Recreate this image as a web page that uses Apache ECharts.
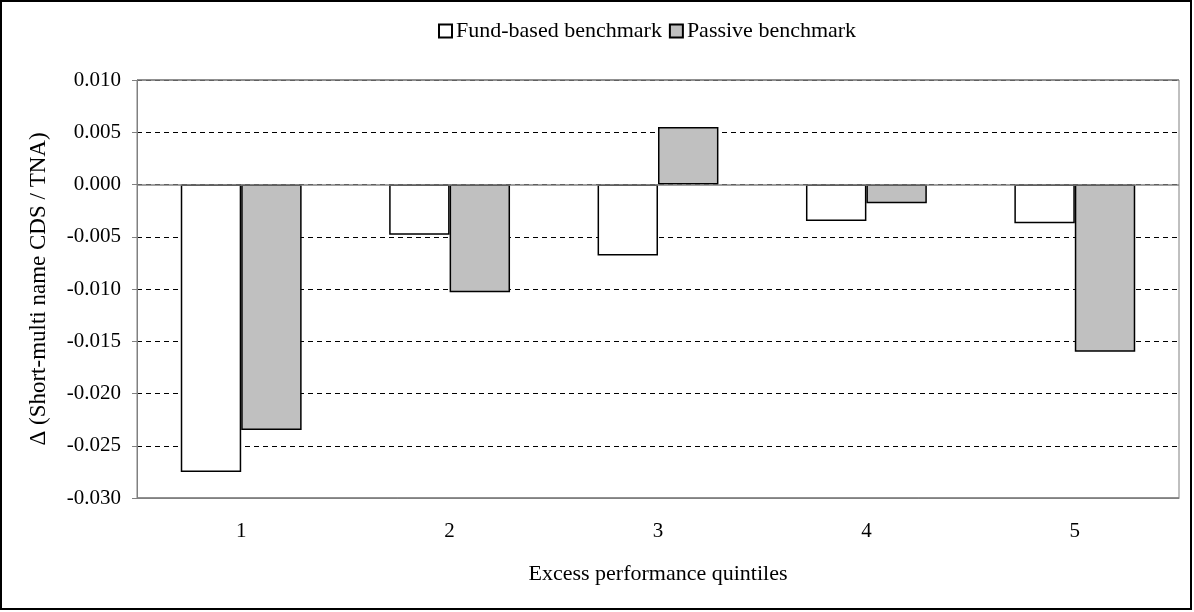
<!DOCTYPE html>
<html>
<head>
<meta charset="utf-8">
<script src="https://cdn.jsdelivr.net/npm/echarts@6/dist/echarts.min.js"></script>
<style>
html,body{margin:0;padding:0;background:#fff;}
#chart{width:1194px;height:612px;}
</style>
</head>
<body>
<div id="chart"></div>
<script>
const categories = ['1', '2', '3', '4', '5'];
const fundBased = [-0.0275, -0.0048, -0.0068, -0.0035, -0.0037];
const passive = [-0.0235, -0.0103, 0.0055, -0.0018, -0.0160];
const seriesNames = ['Fund-based benchmark', 'Passive benchmark'];
const yTicks = { min: -0.030, max: 0.010, step: 0.005 };

const FONT = '"Liberation Serif", "Times New Roman", serif';
const chart = echarts.init(document.getElementById('chart'));
chart.setOption({
  animation: false,
  backgroundColor: '#fff',
  graphic: [{
    type: 'rect', z: 100, silent: true,
    shape: { x: 1, y: 1, width: 1190, height: 608 },
    style: { fill: 'none', stroke: '#000', lineWidth: 2 }
  }],
  legend: {
    top: 15, left: 433,
    itemWidth: 13, itemHeight: 13, itemGap: 7,
    textStyle: { fontFamily: FONT, fontSize: 22, color: '#000', padding: [0, 0, 0, -1] },
    data: seriesNames.map(n => ({ name: n, icon: 'rect' }))
  },
  grid: {
    left: 137, right: 15, top: 80, bottom: 114,
    show: true, borderColor: '#808080', borderWidth: 1, backgroundColor: 'transparent'
  },
  xAxis: {
    type: 'category', data: categories,
    name: 'Excess performance quintiles', nameLocation: 'middle', nameGap: 65,
    nameTextStyle: { fontFamily: FONT, fontSize: 22, color: '#000' },
    axisLine: { onZero: false, lineStyle: { color: '#808080', width: 1 } },
    axisTick: { show: false },
    axisLabel: { fontFamily: FONT, fontSize: 21, color: '#000', margin: 23 }
  },
  yAxis: {
    type: 'value', min: yTicks.min, max: yTicks.max, interval: yTicks.step,
    name: 'Δ (Short-multi name CDS / TNA)', nameLocation: 'middle', nameGap: 87,
    nameTextStyle: { fontFamily: FONT, fontSize: 23, color: '#000' },
    axisLine: { show: true, lineStyle: { color: '#808080', width: 1 } },
    axisTick: { show: true, length: 5, lineStyle: { color: '#808080' } },
    axisLabel: { fontFamily: FONT, fontSize: 21, color: '#000', margin: 16,
      formatter: v => v.toFixed(3) },
    splitLine: { show: true, lineStyle: { color: '#000', type: [5, 4], width: 1 } }
  },
  series: [
    {
      name: seriesNames[0], type: 'bar', data: fundBased,
      barGap: '0%', barCategoryGap: '42%',
      itemStyle: { color: '#fff', borderColor: '#000', borderWidth: 1.5 },
      markLine: {
        silent: true, symbol: 'none', label: { show: false },
        lineStyle: { color: '#808080', type: 'solid', width: 1.5 },
        data: [{ yAxis: 0 }, { yAxis: yTicks.max }, { yAxis: yTicks.min }]
      },
      z: 3
    },
    {
      name: seriesNames[1], type: 'bar', data: passive,
      itemStyle: { color: '#c0c0c0', borderColor: '#000', borderWidth: 1.5 },
      z: 3
    }
  ]
});
</script>
</body>
</html>
